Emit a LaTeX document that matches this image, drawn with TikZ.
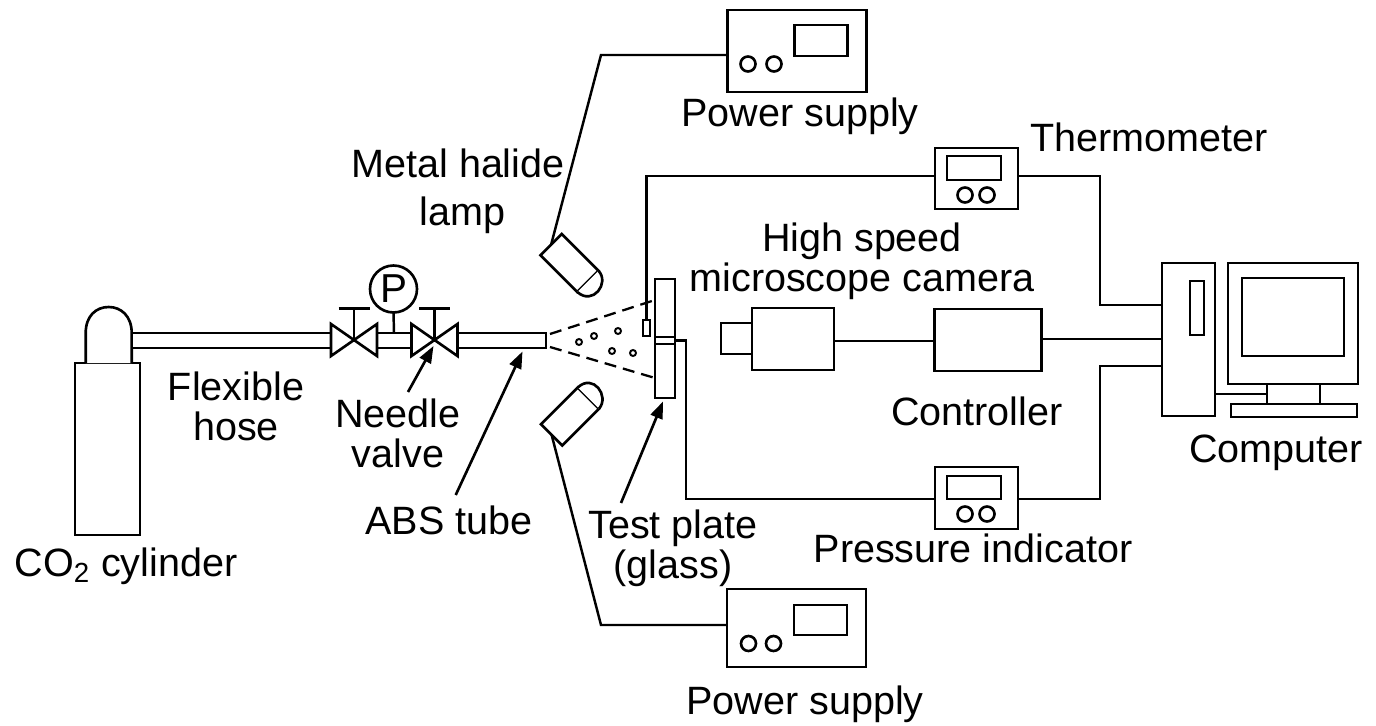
\documentclass[tikz,border=0pt]{standalone}
\usepackage{fontspec}
\setmainfont{Liberation Sans}
\usetikzlibrary{arrows.meta, positioning}

\begin{document}
\begin{tikzpicture}[
  x=0.02cm, y=-0.02cm,
  part/.style={draw, line width=1.5pt, fill=white, inner sep=0pt, outer sep=0pt},
  size/.style 2 args={minimum width=#1*0.02cm, minimum height=#2*0.02cm},
  knob/.style={part, circle, minimum size=0.3cm},
  wire/.style={line width=1.4pt},
  spray/.style={line width=1.3pt, dash pattern=on 0.24cm off 0.14cm},
  bubble/.style={draw, line width=1.1pt, circle, inner sep=0pt, minimum size=0.12cm},
  pointer/.style={line width=1.5pt, -{Triangle[length=0.34cm, width=0.25cm]}},
  label/.style={align=center, font=\fontsize{22.5}{22.8}\selectfont, inner sep=0pt}
  ]
  \useasboundingbox (0,0) rectangle (1376,726);

  % Cylinder
  \node[part, size={65}{172}] (cylinder) at (107.5,449) {};
  \coordinate (domeleft) at (85.7,363);
  \coordinate (domeright) at (131.7,363);
  \draw[part] (domeleft) -- (85.7,333) .. controls (85.7,316) and (96,307) .. (108.7,307)
    .. controls (121,307) and (131.7,316) .. (131.7,333) -- (domeright);

  % Pipe line
  \node[part, size={199}{15}] (hose) at (231.5,340.5) {};
  \node[part, size={34}{15}] (pipemid) at (394,340.5) {};
  \node[part, size={88}{15}] (tube) at (502,340.5) {};

  % Valves
  \foreach \valve/\cx in {valveone/354, valvetwo/434.5} {
    \coordinate (\valve) at (\cx,340.5);
    \draw[part] (\cx-23,324) -- (\cx+23,356) -- (\cx+23,324) -- (\cx-23,356) -- cycle;
    \coordinate (\valve top) at (\cx,308.5);
    \draw[wire] (\valve) -- (\valve top);
    \draw[wire] (\cx-15.5,308.5) -- (\cx+15.5,308.5);
  }

  % Pressure gauge
  \node[part, circle, size={47}{47}, font=\fontsize{23}{24}\selectfont] (gauge) at (393.5,289) {P};
  \draw[wire] (gauge.south) -- (pipemid.north);

  % Spray
  \coordinate (spraytop) at (550,334);
  \coordinate (spraylow) at (550,347);
  \coordinate (plateup) at (655,300);
  \coordinate (platelow) at (655,378);
  \draw[spray] (spraytop) -- (plateup);
  \draw[spray] (spraylow) -- (platelow);
  \foreach \cx/\cy [count=\i] in {579/342, 594/336, 618/331, 612/351, 633/353} {
    \node[bubble] (bubble\i) at (\cx,\cy) {};
  }

  % Test plate
  \node[part, size={20}{119}] (plate) at (665,338.5) {};
  \node[part, size={20}{7}] (plateband) at (665,340.5) {};
  \node[part, size={7}{16}] (sensor) at (646.5,328) {};

  % Lamps
  \node[part, size={52}{30}, rotate=-45] (lamptop) at (569.5,263) {};
  \node[part, size={52}{30}, rotate=45] (lamplow) at (570,416.5) {};
  \draw[part] (lamptop.north east) .. controls (610,283) and (593,306) .. (lamptop.south east);
  \draw[part] (lamplow.north east) .. controls (593,373) and (610,396) .. (lamplow.south east);

  % Power supplies
  \node[part, size={139}{82}] (supplytop) at (797,51) {};
  \node[part, size={53}{31}] (displaytop) at (821,40.5) {};
  \node[knob] (knobtopa) at (748,64) {};
  \node[knob] (knobtopb) at (774,64) {};
  \node[part, size={139}{78}] (supplylow) at (796.5,628) {};
  \node[part, size={53}{30}] (displaylow) at (820.5,620) {};
  \node[knob] (knoblowa) at (748.5,643.5) {};
  \node[knob] (knoblowb) at (773.5,643.5) {};

  \coordinate (bendtop) at (601,55);
  \coordinate (bendlow) at (601,625);
  \draw[wire] (lamptop.west) -- (bendtop) -- (bendtop -| supplytop.west);
  \draw[wire] (lamplow.west) -- (bendlow) -- (bendlow -| supplylow.west);

  % Indicators
  \node[part, size={83}{61}] (thermometer) at (976.5,178.5) {};
  \node[part, size={54}{24}] (thermodisplay) at (974,168) {};
  \node[knob] (thermoknoba) at (965,195) {};
  \node[knob] (thermoknobb) at (987,195) {};
  \node[part, size={83}{62}] (indicator) at (976.5,498) {};
  \node[part, size={54}{23}] (indicatordisplay) at (974,487.5) {};
  \node[knob] (indicatorknoba) at (965,514) {};
  \node[knob] (indicatorknobb) at (987,514) {};

  % Camera
  \node[part, size={31}{31}] (lens) at (736.5,338.5) {};
  \node[part, size={82}{62}] (camera) at (793,339) {};
  \node[part, size={107}{62}] (controller) at (988,340) {};
  \coordinate (camerawire) at (885,341);
  \draw[wire] (camerawire -| camera.east) -- (camerawire -| controller.west);

  % Computer
  \node[part, size={53}{153}] (tower) at (1188.5,339.5) {};
  \node[part, size={14}{54}] (slot) at (1197,308) {};
  \node[part, size={130}{121}] (monitor) at (1293,323.5) {};
  \node[part, size={102}{78}] (screen) at (1293,317) {};
  \node[part, size={126}{13}] (keyboard) at (1294,410.5) {};
  \node[part, size={53}{20}] (stand) at (1293.5,394) {};
  \draw[wire] (tower.east |- stand.west) -- (stand.west);

  % Wires to the computer
  \coordinate (thermoturn) at (1100,176);
  \coordinate (thermodrop) at (1100,305);
  \coordinate (indicatorturn) at (1100,499);
  \coordinate (indicatorrise) at (1100,366);
  \coordinate (sensorturn) at (646.5,176);
  \coordinate (plateturn) at (686,340.5);
  \coordinate (plateend) at (686,499);
  \coordinate (controllerout) at (1041.5,339);
  \draw[wire] (thermoturn -| thermometer.east) -- (thermoturn) -- (thermodrop) -- (thermodrop -| tower.west);
  \draw[wire] (indicatorturn -| indicator.east) -- (indicatorturn) -- (indicatorrise) -- (indicatorrise -| tower.west);
  \draw[wire] (controllerout) -- (controllerout -| tower.west);
  \draw[wire] (sensor.north) -- (sensorturn) -- (sensorturn -| thermometer.west);
  \draw[wire] (plateband.east) -- (plateturn) -- (plateend) -- (plateend -| indicator.west);

  % Arrows
  \coordinate (needletail) at (408,392);
  \coordinate (needletip) at (433.5,346);
  \coordinate (abstail) at (455.7,495);
  \coordinate (abstip) at (522.5,351.5);
  \coordinate (testtail) at (621,503);
  \coordinate (testtip) at (663,401.5);
  \draw[pointer] (needletail) -- (needletip);
  \draw[pointer] (abstail) -- (abstip);
  \draw[pointer] (testtail) -- (testtip);

  % Labels
  \node[label] (cylinderlabel) at (126,566) {CO\textsubscript{2} cylinder};
  \node[label] (hoselabel) at (236,406) {Flexible\\hose};
  \node[label] (needlelabel) at (398,433) {Needle\\valve};
  \node[label] (abslabel) at (449,520) {ABS tube};
  \node[label] (testlabel) at (673,548) {Test plate\\(glass)};
  \node[label] (supplytoplabel) at (800,116) {Power supply};
  \node[label] (supplylowlabel) at (805,704) {Power supply};
  \node[label] (lamplabel) at (458,191) {Metal halide\\[4.6pt]\hspace*{0.18cm}lamp};
  \node[label] (cameralabel) at (862,261) {High speed\\microscope camera};
  \node[label] (thermolabel) at (1149,137) {Thermometer};
  \node[label] (controllerlabel) at (977,411) {Controller};
  \node[label] (computerlabel) at (1276,453) {Computer};
  \node[label] (indicatorlabel) at (973,548) {Pressure indicator};

\end{tikzpicture}
\end{document}
